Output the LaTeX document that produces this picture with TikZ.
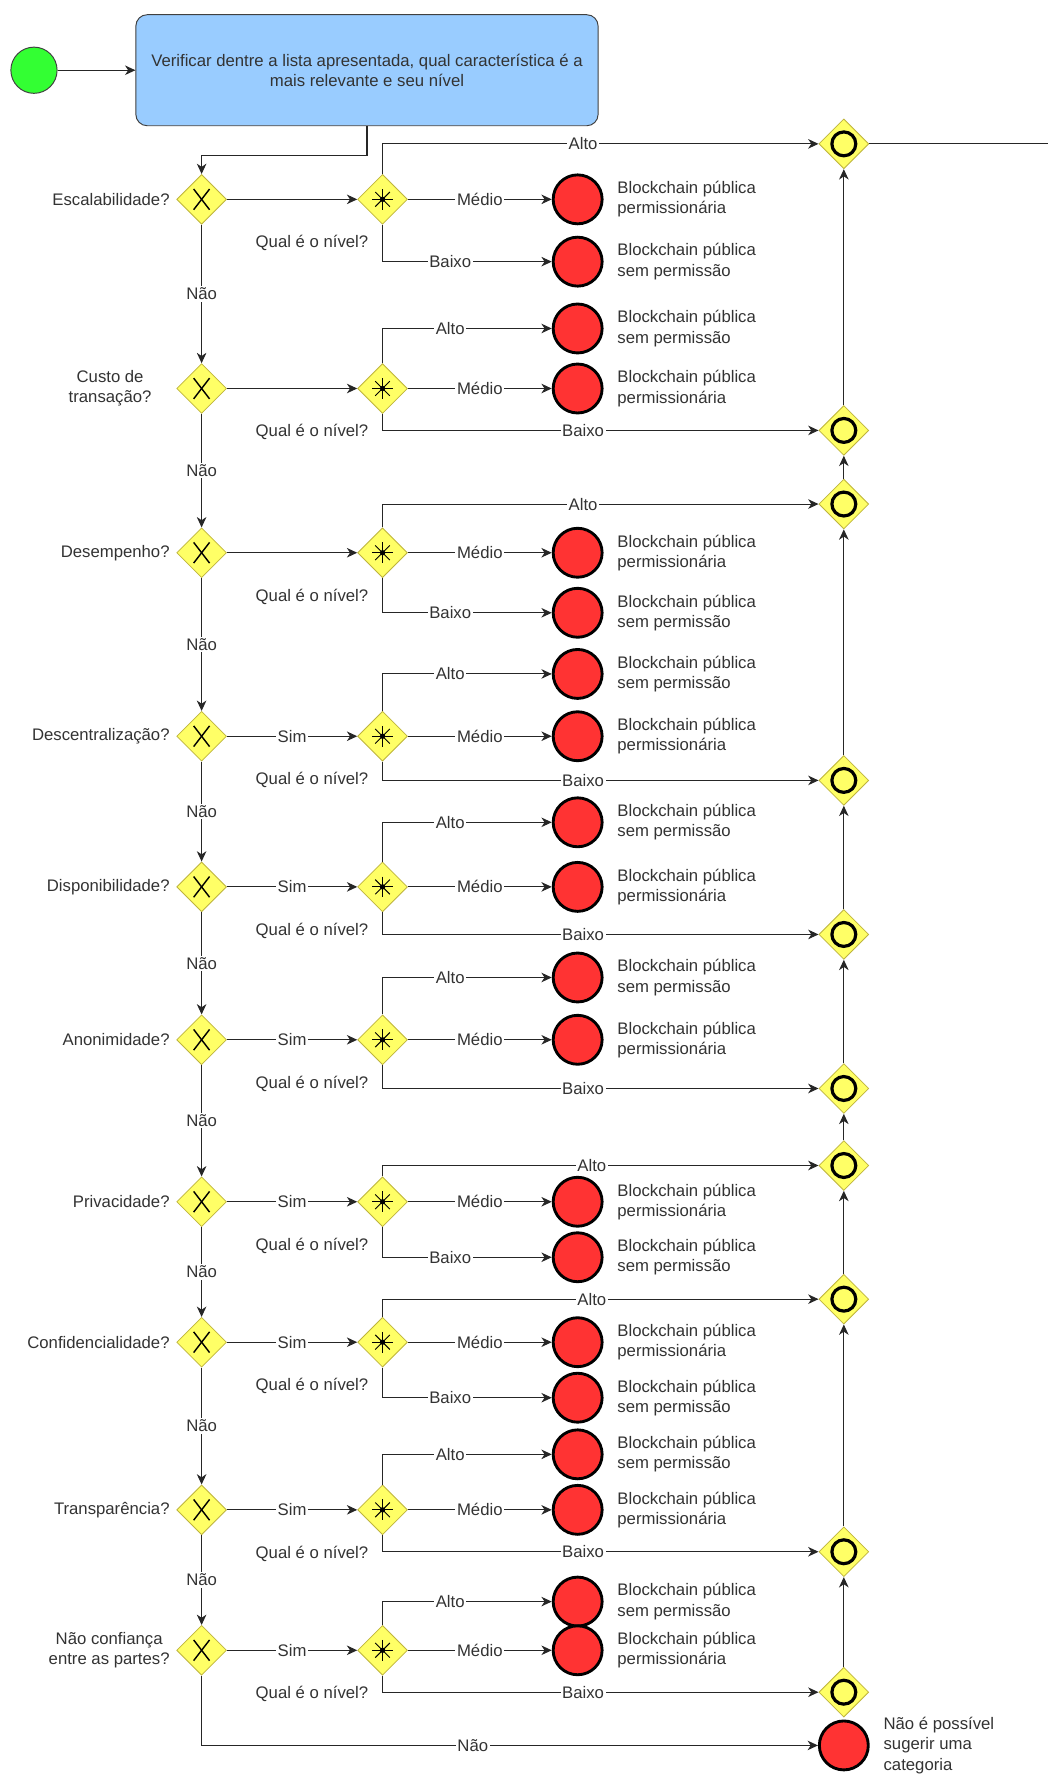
\documentclass[tikz,border=0pt]{standalone}
\usepackage{fontspec}
\setmainfont{Liberation Sans}
\usepackage{tikz}
\usetikzlibrary{positioning,shapes.geometric,arrows.meta}
\definecolor{verde}{RGB}{51,255,51}
\definecolor{azul}{RGB}{153,204,255}
\definecolor{vermelho}{RGB}{255,51,51}
\definecolor{amarelo}{RGB}{255,255,102}
\definecolor{bordaam}{RGB}{190,180,60}
\definecolor{texto}{RGB}{51,51,51}
\tikzset{
	linha/.style={line width=0.65pt, draw=black!85},
	seta/.style={linha, -{Stealth[length=6.5pt, width=6pt, inset=2pt]}},
	inicio/.style={circle, minimum size=1.02cm, inner sep=0pt, fill=verde, draw=black!75, line width=0.6pt},
	tarefa/.style={rectangle, rounded corners=0.25cm, minimum width=10.2cm, minimum height=2.45cm, fill=azul, draw=black!75, line width=0.6pt, align=center},
	fim/.style={circle, minimum size=1.08cm, inner sep=0pt, fill=vermelho, draw=black, line width=1.8pt},
	gw/.style={diamond, aspect=1, minimum size=1.1cm, inner sep=0pt, fill=amarelo, draw=bordaam, line width=0.5pt},
	xgw/.style={gw, path picture={
		\draw[line width=0.9pt, black] ([shift={(-5pt,-6.5pt)}]path picture bounding box.center) -- ([shift={(5pt,6.5pt)}]path picture bounding box.center);
		\draw[line width=0.9pt, black] ([shift={(-5pt,6.5pt)}]path picture bounding box.center) -- ([shift={(5pt,-6.5pt)}]path picture bounding box.center);}},
	cgw/.style={gw, path picture={
		\foreach \a in {0,45,90,135}
			\draw[line width=0.6pt, black] ([shift={(\a:6.5pt)}]path picture bounding box.center) -- ([shift={(\a+180:6.5pt)}]path picture bounding box.center);
		\fill[black] (path picture bounding box.center) circle (1.7pt);}},
	ogw/.style={gw, path picture={
		\draw[line width=2pt, black] (path picture bounding box.center) circle (7.5pt);}},
	rot/.style={inner sep=1pt, label distance=3pt, align=center},
	lab/.style={fill=white, inner sep=1pt},
	txt/.style={align=left, inner sep=1pt, label distance=7.5pt},
	qual/.style={label={[rot, xshift=0.08cm, yshift=-0.4cm]below left:Qual é o nível?}},
	perm/.style={fim, label={[txt]0:{Blockchain pública\\permissionária}}},
	semp/.style={fim, label={[txt]0:{Blockchain pública\\sem permissão}}},
}

\begin{document}
\begin{tikzpicture}[x=0.025cm, y=-0.025cm, font=\fontsize{10.5pt}{12.7pt}\selectfont, every node/.style={text=texto}]
	\path[use as bounding box, fill=white] (0,0) rectangle (925,1568);
	\node[inicio] (ini) at (30,62) {};
	\node[tarefa] (tar) at (324,62) {Verificar dentre a lista apresentada, qual característica é a\\mais relevante e seu nível};

	\node[xgw, label={[rot]left:Escalabilidade?}] (x1) at (178,176) {};
	\node[cgw, qual, right=2.875cm of x1] (c1) {};
	\node[perm] (m1) at (510,176) {};
	\node[semp] (b1) at (510,231) {};
	\node[ogw] (o1) at (745,127) {};

	\node[xgw, label={[rot, xshift=-0.4cm]left:{Custo de\\transação?}}] (x2) at (178,343) {};
	\node[cgw, qual, right=2.875cm of x2] (c2) {};
	\node[semp] (a2) at (510,290) {};
	\node[perm] (m2) at (510,343) {};
	\node[ogw] (o2) at (745,380) {};

	\node[xgw, label={[rot]left:Desempenho?}] (x3) at (178,488) {};
	\node[cgw, qual, right=2.875cm of x3] (c3) {};
	\node[perm] (m3) at (510,488) {};
	\node[semp] (b3) at (510,541) {};
	\node[ogw] (o3) at (745,445) {};

	\node[xgw, label={[rot]left:Descentralização?}] (x4) at (178,650) {};
	\node[cgw, qual, right=2.875cm of x4] (c4) {};
	\node[semp] (a4) at (510,595) {};
	\node[perm] (m4) at (510,650) {};
	\node[ogw] (o4) at (745,689) {};

	\node[xgw, label={[rot]left:Disponibilidade?}] (x5) at (178,783) {};
	\node[cgw, qual, right=2.875cm of x5] (c5) {};
	\node[semp] (a5) at (510,726) {};
	\node[perm] (m5) at (510,783) {};
	\node[ogw] (o5) at (745,825) {};

	\node[xgw, label={[rot]left:Anonimidade?}] (x6) at (178,918) {};
	\node[cgw, qual, right=2.875cm of x6] (c6) {};
	\node[semp] (a6) at (510,863) {};
	\node[perm] (m6) at (510,918) {};
	\node[ogw] (o6) at (745,961) {};

	\node[xgw, label={[rot]left:Privacidade?}] (x7) at (178,1061) {};
	\node[cgw, qual, right=2.875cm of x7] (c7) {};
	\node[perm] (m7) at (510,1061) {};
	\node[semp] (b7) at (510,1110) {};
	\node[ogw] (o7) at (745,1029) {};

	\node[xgw, label={[rot]left:Confidencialidade?}] (x8) at (178,1185) {};
	\node[cgw, qual, right=2.875cm of x8] (c8) {};
	\node[perm] (m8) at (510,1185) {};
	\node[semp] (b8) at (510,1234) {};
	\node[ogw] (o8) at (745,1147) {};

	\node[xgw, label={[rot]left:Transparência?}] (x9) at (178,1333) {};
	\node[cgw, qual, right=2.875cm of x9] (c9) {};
	\node[semp] (a9) at (510,1284) {};
	\node[perm] (m9) at (510,1333) {};
	\node[ogw] (o9) at (745,1370) {};

	\node[xgw, label={[rot]left:{Não confiança\\entre as partes?}}] (x10) at (178,1457) {};
	\node[cgw, qual, right=2.875cm of x10] (c10) {};
	\node[semp] (a10) at (510,1414) {};
	\node[perm] (m10) at (510,1457) {};
	\node[ogw] (o10) at (745,1494) {};

	\node[fim, label={[txt]0:{Não é possível\\sugerir uma\\categoria}}] (fimx) at (745,1541) {};
	\coordinate (saida) at (925,127);

	\draw[seta] (ini) -- (tar);
	\draw[seta] (tar.south) -- ++(0,26) -| (x1.north);

	\draw[seta] (x1) -- (c1);
	\draw[seta] (c1.north) |- node[pos=0.73, lab] {Alto} (o1.west);
	\draw[seta] (c1) -- node[lab] {Médio} (m1);
	\draw[seta] (c1.south) |- node[pos=0.7, lab] {Baixo} (b1.west);
	\draw[seta] (x1) -- node[lab] {Não} (x2);

	\draw[seta] (x2) -- (c2);
	\draw[seta] (c2.north) |- node[pos=0.7, lab] {Alto} (a2.west);
	\draw[seta] (c2) -- node[lab] {Médio} (m2);
	\draw[seta] (c2.south) |- node[pos=0.73, lab] {Baixo} (o2.west);
	\draw[seta] (x2) -- node[lab] {Não} (x3);

	\draw[seta] (x3) -- (c3);
	\draw[seta] (c3.north) |- node[pos=0.73, lab] {Alto} (o3.west);
	\draw[seta] (c3) -- node[lab] {Médio} (m3);
	\draw[seta] (c3.south) |- node[pos=0.7, lab] {Baixo} (b3.west);
	\draw[seta] (x3) -- node[lab] {Não} (x4);

	\draw[seta] (x4) -- node[lab] {Sim} (c4);
	\draw[seta] (c4.north) |- node[pos=0.7, lab] {Alto} (a4.west);
	\draw[seta] (c4) -- node[lab] {Médio} (m4);
	\draw[seta] (c4.south) |- node[pos=0.73, lab] {Baixo} (o4.west);
	\draw[seta] (x4) -- node[lab] {Não} (x5);

	\draw[seta] (x5) -- node[lab] {Sim} (c5);
	\draw[seta] (c5.north) |- node[pos=0.7, lab] {Alto} (a5.west);
	\draw[seta] (c5) -- node[lab] {Médio} (m5);
	\draw[seta] (c5.south) |- node[pos=0.73, lab] {Baixo} (o5.west);
	\draw[seta] (x5) -- node[lab] {Não} (x6);

	\draw[seta] (x6) -- node[lab] {Sim} (c6);
	\draw[seta] (c6.north) |- node[pos=0.7, lab] {Alto} (a6.west);
	\draw[seta] (c6) -- node[lab] {Médio} (m6);
	\draw[seta] (c6.south) |- node[pos=0.73, lab] {Baixo} (o6.west);
	\draw[seta] (x6) -- node[lab] {Não} (x7);

	\draw[seta] (x7) -- node[lab] {Sim} (c7);
	\draw[seta] (c7.north) |- node[pos=0.74, lab] {Alto} (o7.west);
	\draw[seta] (c7) -- node[lab] {Médio} (m7);
	\draw[seta] (c7.south) |- node[pos=0.7, lab] {Baixo} (b7.west);
	\draw[seta] (x7) -- node[lab] {Não} (x8);

	\draw[seta] (x8) -- node[lab] {Sim} (c8);
	\draw[seta] (c8.north) |- node[pos=0.74, lab] {Alto} (o8.west);
	\draw[seta] (c8) -- node[lab] {Médio} (m8);
	\draw[seta] (c8.south) |- node[pos=0.7, lab] {Baixo} (b8.west);
	\draw[seta] (x8) -- node[lab] {Não} (x9);

	\draw[seta] (x9) -- node[lab] {Sim} (c9);
	\draw[seta] (c9.north) |- node[pos=0.7, lab] {Alto} (a9.west);
	\draw[seta] (c9) -- node[lab] {Médio} (m9);
	\draw[seta] (c9.south) |- node[pos=0.73, lab] {Baixo} (o9.west);
	\draw[seta] (x9) -- node[lab] {Não} (x10);

	\draw[seta] (x10) -- node[lab] {Sim} (c10);
	\draw[seta] (c10.north) |- node[pos=0.7, lab] {Alto} (a10.west);
	\draw[seta] (c10) -- node[lab] {Médio} (m10);
	\draw[seta] (c10.south) |- node[pos=0.73, lab] {Baixo} (o10.west);
	\draw[seta] (x10.south) |- node[pos=0.72, lab] {Não} (fimx.west);

	\draw[seta] (o10) -- (o9);
	\draw[seta] (o9) -- (o8);
	\draw[seta] (o8) -- (o7);
	\draw[seta] (o7) -- (o6);
	\draw[seta] (o6) -- (o5);
	\draw[seta] (o5) -- (o4);
	\draw[seta] (o4) -- (o3);
	\draw[seta] (o3) -- (o2);
	\draw[seta] (o2) -- (o1);
	\draw[linha] (o1) -- (saida);
\end{tikzpicture}
\end{document}
